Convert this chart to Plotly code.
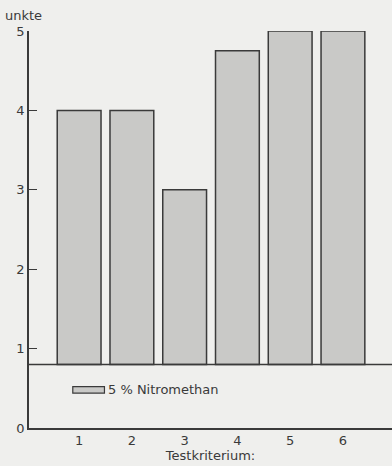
import plotly.graph_objects as go

categories = [1, 2, 3, 4, 5, 6]
values = [4.0, 4.0, 3.0, 4.75, 5.0, 5.0]
baseline = 0.8
series_name = "5 % Nitromethan"
y_ticks = [0, 1, 2, 3, 4, 5]

bg = "#efefed"
ink = "#3a3a3a"

fig = go.Figure()
fig.add_trace(go.Bar(
    x=categories,
    y=[v - baseline for v in values],
    base=baseline,
    width=0.83,
    marker=dict(color="#c9c9c7", line=dict(color=ink, width=1.5)),
    name=series_name,
    showlegend=False,
))

# baseline line across plot
fig.add_shape(type="line", xref="paper", yref="y", x0=0, x1=1, y0=baseline, y1=baseline,
              line=dict(color=ink, width=1.5))
# legend swatch + text
fig.add_shape(type="rect", xref="x", yref="y", x0=0.88, x1=1.48, y0=0.44, y1=0.52,
              line=dict(color=ink, width=1.2), fillcolor="#c9c9c7")
fig.add_annotation(x=1.5, y=0.48, xref="x", yref="y", text=series_name, showarrow=False,
                   xanchor="left", yanchor="middle", font=dict(size=13, color=ink))

fig.add_annotation(x=0, y=1.0, xref="paper", yref="paper", text="unkte", showarrow=False,
                   xanchor="center", yanchor="bottom", xshift=-6, yshift=6,
                   font=dict(size=13, color=ink))

fig.update_layout(
    width=392, height=466,
    margin=dict(l=29, r=0, t=31, b=38),
    paper_bgcolor=bg, plot_bgcolor=bg,
    font=dict(family="DejaVu Sans", size=12, color=ink),
    bargap=0.17,
    xaxis=dict(range=[0.05, 6.93], tickvals=categories, ticks="", showgrid=False,
               zeroline=False, showline=True, linecolor=ink, linewidth=1.5,
               automargin=False, ticklabelstandoff=0, tickfont=dict(size=13),
               title=dict(text="Testkriterium:", standoff=0, font=dict(size=13))),
    yaxis=dict(range=[0, 5], tickvals=y_ticks, ticks="inside", ticklen=8, tickcolor=ink,
               tickwidth=1.2, showgrid=False, zeroline=False, showline=True,
               tickfont=dict(size=13),
               automargin=False, linecolor=ink, linewidth=1.5),
)

fig.write_html(
    "out.html",
    config={"displayModeBar": False},
    post_script="document.body.style.margin='0';document.body.style.background='#efefed';"
                "document.body.style.overflow='hidden';",
)
